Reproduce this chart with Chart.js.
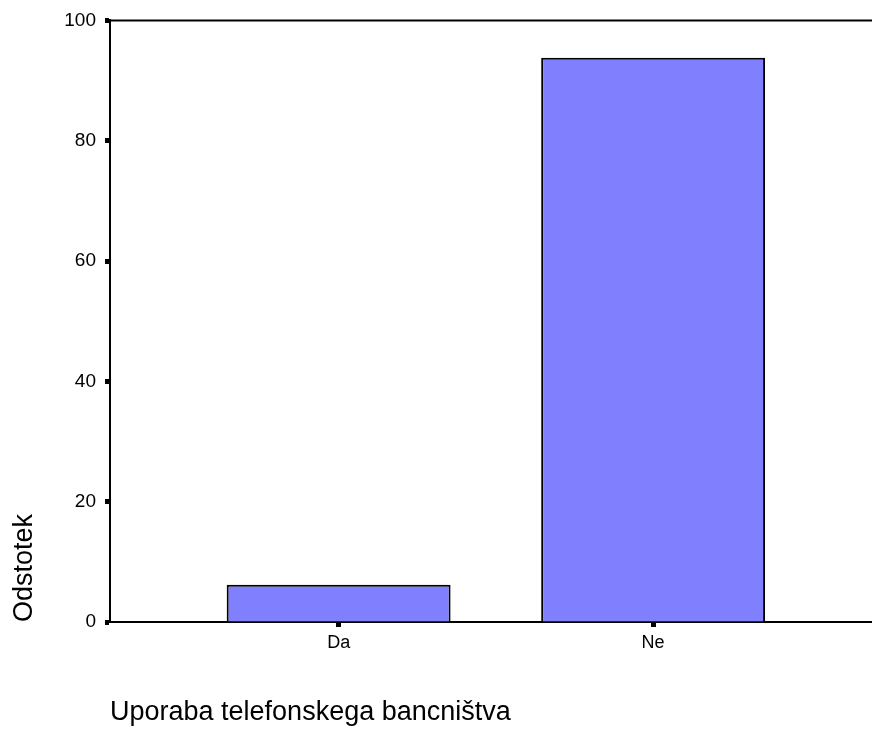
<!DOCTYPE html>
<html>
<head>
<meta charset="utf-8">
<script src="https://cdn.jsdelivr.net/npm/chart.js@4.4.0/dist/chart.umd.min.js"></script>
<style>
  html, body { margin: 0; padding: 0; background: #fff; }
  canvas { display: block; }
</style>
</head>
<body>
<canvas id="chart" width="872" height="731"></canvas>
<script>
// data
const categories = ["Da", "Ne"];
const percents = [6.2, 93.8];
const yTicks = [0, 20, 40, 60, 80, 100];

const xTitle = "Uporaba telefonskega bancništva";
const yTitle = "Odstotek";

const FONT = "'Liberation Sans', Arial, sans-serif";

// top frame line (SPSS style box, no right side)
const topFrame = {
  id: "topFrame",
  afterDraw: (chart) => {
    const { ctx, chartArea } = chart;
    ctx.save();
    ctx.strokeStyle = "#000";
    ctx.lineWidth = 2;
    ctx.beginPath();
    ctx.moveTo(chartArea.left - 1, chartArea.top);
    ctx.lineTo(chart.width, chartArea.top);
    ctx.stroke();
    ctx.restore();
  },
};

const ctx = document.getElementById("chart").getContext("2d");
new Chart(ctx, {
  type: "bar",
  data: {
    datasets: [
      {
        label: yTitle,
        data: percents.map((v, i) => ({ x: i + 1, y: v })),
        backgroundColor: "#8080ff",
        borderColor: "#000",
        borderWidth: 2,
        categoryPercentage: 1,
        barPercentage: 0.712,
      },
    ],
  },
  plugins: [topFrame],
  options: {
    responsive: false,
    animation: false,
    layout: {
      padding: { top: 19, right: 0, bottom: 0, left: 0 },
    },
    plugins: {
      legend: { display: false },
      tooltip: { enabled: false },
    },
    scales: {
      x: {
        type: "linear",
        min: 0.273,
        max: 2.696,
        offset: false,
        afterFit: (scale) => {
          scale.height = 109;
        },
        afterBuildTicks: (scale) => {
          scale.ticks = categories.map((c, i) => ({ value: i + 1 }));
        },
        ticks: {
          color: "#000",
          padding: 5,
          font: { family: FONT, size: 18 },
          callback: (value) => categories[value - 1],
        },
        grid: {
          offset: false,
          drawOnChartArea: false,
          drawTicks: true,
          tickLength: 5,
          tickWidth: 5,
          tickColor: "#000",
        },
        border: { display: true, color: "#000", width: 2 },
        title: {
          display: true,
          text: xTitle,
          align: "start",
          color: "#000",
          padding: { top: 0, bottom: 2 },
          font: { family: FONT, size: 27 },
        },
      },
      y: {
        type: "linear",
        min: 0,
        max: 100,
        afterFit: (scale) => {
          scale.width = 110;
        },
        afterBuildTicks: (scale) => {
          scale.ticks = yTicks.map((v) => ({ value: v }));
        },
        ticks: {
          color: "#000",
          padding: 9,
          font: { family: FONT, size: 19 },
        },
        grid: {
          drawOnChartArea: false,
          drawTicks: true,
          tickLength: 5,
          tickWidth: 5,
          tickColor: "#000",
        },
        border: { display: true, color: "#000", width: 2 },
        title: {
          display: true,
          text: yTitle,
          align: "start",
          color: "#000",
          padding: { top: 8, bottom: 0 },
          font: { family: FONT, size: 27 },
        },
      },
    },
  },
});
</script>
</body>
</html>
